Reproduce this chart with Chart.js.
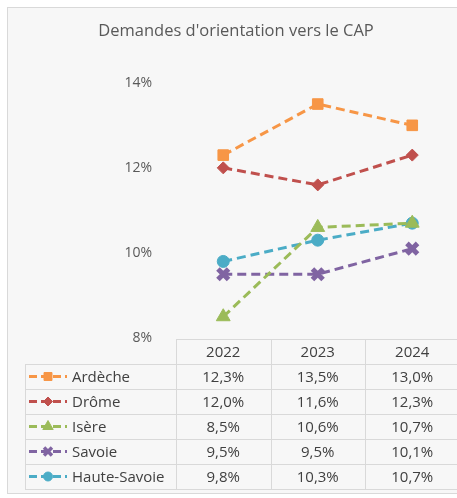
<!DOCTYPE html>
<html>
<head>
<meta charset="utf-8">
<script src="https://cdn.jsdelivr.net/npm/chart.js@4.4.1/dist/chart.umd.min.js"></script>
<style>
  html, body { margin: 0; padding: 0; background: #fff; overflow: hidden; }
  #frame {
    position: absolute; left: 7px; top: 7px; width: 460px; height: 485px;
    background: #f7f7f7; border: 1px solid #d9d9d9;
  }
  #wrap { position: absolute; left: 0; top: 0; width: 457px; height: 498px; overflow: hidden; }
</style>
</head>
<body>
<div id="frame"></div>
<div id="wrap"><canvas id="chart" width="472" height="498"></canvas></div>
<script>
const years = ['2022', '2023', '2024'];
const ardeche = [12.3, 13.5, 13.0];
const drome = [12.0, 11.6, 12.3];
const isere = [8.5, 10.6, 10.7];
const savoie = [9.5, 9.5, 10.1];
const hauteSavoie = [9.8, 10.3, 10.7];
const yTicks = [8, 10, 12, 14];

const FONT = '"Open Sans", sans-serif';
const TEXT = '#595959';
const GRID = '#d9d9d9';

const series = [
    { label: 'Ardèche', data: ardeche, color: '#f79646', style: 'rect', radius: 7.5 },
    { label: 'Drôme', data: drome, color: '#c0504d', style: 'rectRot', radius: 6 },
    { label: 'Isère', data: isere, color: '#9bbb59', style: 'triangle', radius: 8 },
    { label: 'Savoie', data: savoie, color: '#8064a2', style: 'crossRot', radius: 7.5 },
    { label: 'Haute-Savoie', data: hauteSavoie, color: '#4bacc6', style: 'circle', radius: 6 }
];

const fmt = v => v.toFixed(1).replace('.', ',') + '%';

// data table under the plot, columns follow the x scale
const dataTable = {
    id: 'dataTable',
    afterDraw(chart) {
        const ctx = chart.ctx;
        const xs = chart.scales.x;
        const area = chart.chartArea;
        const colW = xs.width / years.length;
        const top = area.bottom + 1;
        const rowH = 25;
        const left = 25;
        const right = chart.width + 5;
        const bottom = top + rowH * (series.length + 1);

        ctx.save();
        ctx.strokeStyle = GRID;
        ctx.lineWidth = 1;
        ctx.beginPath();
        ctx.moveTo(area.left, top + 0.5); ctx.lineTo(right, top + 0.5);
        for (let r = 1; r <= series.length + 1; r++) {
            const y = Math.round(top + r * rowH) + 0.5;
            ctx.moveTo(left, y); ctx.lineTo(right, y);
        }
        ctx.moveTo(left + 0.5, top + rowH); ctx.lineTo(left + 0.5, bottom);
        for (let c = 0; c < years.length; c++) {
            const x = Math.round(area.left + c * colW) + 0.5;
            ctx.moveTo(x, top); ctx.lineTo(x, bottom);
        }
        ctx.stroke();

        ctx.font = '15px ' + FONT;
        ctx.fillStyle = '#404040';
        ctx.textBaseline = 'middle';
        ctx.textAlign = 'center';
        years.forEach((yr, i) => {
            ctx.fillText(yr, xs.getPixelForValue(i), top + rowH / 2 + 1);
        });

        series.forEach((s, r) => {
            const cy = top + rowH * (r + 1) + rowH / 2 + 1;
            s.data.forEach((v, i) => {
                ctx.textAlign = 'center';
                ctx.fillText(fmt(v), xs.getPixelForValue(i), cy);
            });
            // legend key
            ctx.save();
            ctx.strokeStyle = s.color;
            ctx.lineWidth = 3;
            ctx.setLineDash([8, 4]);
            ctx.beginPath();
            ctx.moveTo(29, cy - 1); ctx.lineTo(67, cy - 1);
            ctx.stroke();
            ctx.restore();
            ctx.save();
            ctx.fillStyle = s.color;
            ctx.strokeStyle = s.color;
            ctx.lineWidth = s.style === 'crossRot' ? 3.5 : 1;
            Chart.helpers.drawPoint(ctx, { pointStyle: s.style, radius: s.radius * 0.75, rotation: 0, borderWidth: ctx.lineWidth }, 48, cy - 1);
            ctx.restore();
            ctx.textAlign = 'left';
            ctx.fillStyle = '#404040';
            ctx.fillText(s.label, 72, cy);
        });
        ctx.restore();
    }
};

new Chart(document.getElementById('chart'), {
    type: 'line',
    data: {
        labels: years,
        datasets: series.map(s => ({
            label: s.label,
            data: s.data,
            borderColor: s.color,
            backgroundColor: s.color,
            borderWidth: 3,
            borderDash: [9, 5],
            pointStyle: s.style,
            pointRadius: s.radius,
            pointBorderWidth: s.style === 'crossRot' ? 5 : 1,
            pointBackgroundColor: s.color,
            pointBorderColor: s.color,
            tension: 0
        }))
    },
    options: {
        responsive: false,
        animation: false,
        layout: { padding: { left: 0, right: 0, top: 0, bottom: 160 } },
        plugins: {
            legend: { display: false },
            tooltip: { enabled: false },
            title: {
                display: true,
                text: "Demandes d'orientation vers le CAP",
                color: TEXT,
                font: { family: FONT, size: 16.5, weight: 'normal' },
                padding: { top: 21, bottom: 42 }
            }
        },
        scales: {
            x: { display: false, offset: true },
            y: {
                min: 8,
                max: 14,
                afterFit: s => { s.width = 176; },
                afterBuildTicks: s => { s.ticks = yTicks.map(v => ({ value: v })); },
                grid: { display: false },
                border: { display: false },
                ticks: {
                    color: TEXT,
                    padding: 16,
                    font: { family: FONT, size: 14 },
                    callback: v => v + '%'
                }
            }
        }
    },
    plugins: [dataTable]
});
</script>
</body>
</html>
